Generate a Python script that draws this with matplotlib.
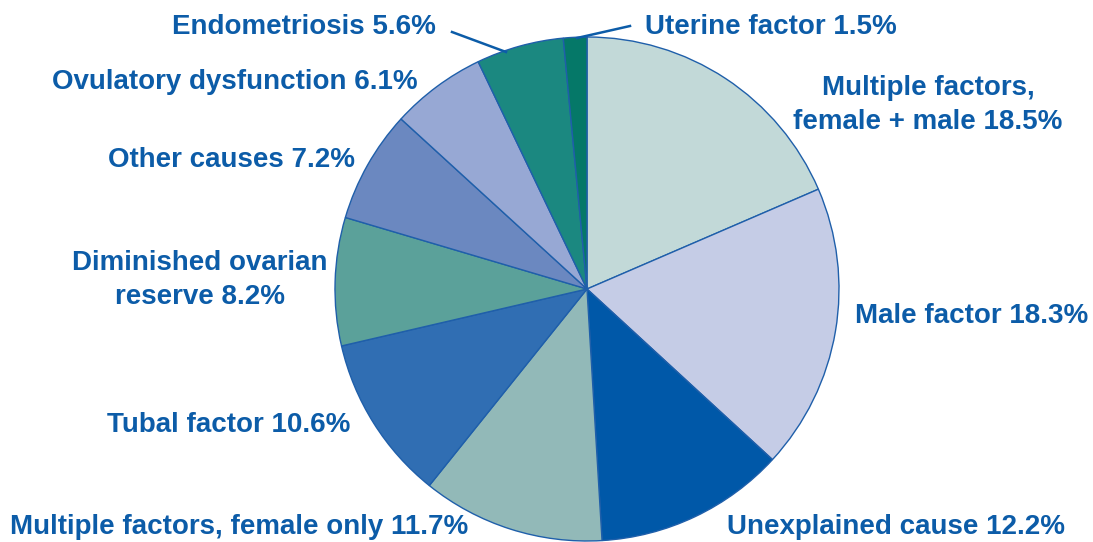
import matplotlib
matplotlib.use("Agg")
import matplotlib.pyplot as plt

categories = ["Multiple factors,\nfemale + male", "Male factor", "Unexplained cause",
              "Multiple factors, female only", "Tubal factor", "Diminished ovarian\nreserve",
              "Other causes", "Ovulatory dysfunction", "Endometriosis", "Uterine factor"]
values = [18.5, 18.3, 12.2, 11.7, 10.6, 8.2, 7.2, 6.1, 5.6, 1.5]
colors = ["#C2D9D8", "#C5CCE6", "#0058A8", "#92B9B8", "#306EB3", "#5BA19A",
          "#6B88C0", "#97A8D4", "#1B8880", "#057868"]

# label layout: (x, y, ha) in pixel coords (y from top)
label_pos = [(928, 105, "center"), (855, 316, "left"), (727, 527, "left"),
             (10, 527, "left"), (350, 425, "right"), (200, 280, "center"),
             (355, 160, "right"), (418, 82, "right"), (436, 27, "right"), (645, 27, "left")]

W, H = 1093, 542
fig = plt.figure(figsize=(W / 100, H / 100), dpi=100)
ax = fig.add_axes([0, 0, 1, 1])

ax.pie(values, colors=colors, startangle=90, counterclock=False,
       center=(587, H - 289), radius=252, frame=True,
       wedgeprops=dict(edgecolor="#1F5FAA", linewidth=1.0))
ax.set_xlim(0, W)
ax.set_ylim(0, H)
ax.set_aspect("equal")
ax.axis("off")

txt_color = "#0C5CA8"
for cat, v, (x, y, ha) in zip(categories, values, label_pos):
    ax.text(x, H - y, f"{cat} {v}%", ha=ha, va="center", color=txt_color,
            fontsize=20, fontweight="bold", family="Liberation Sans",
            linespacing=1.4, multialignment="center")

# leader lines
ax.plot([452, 506], [H - 32, H - 52], color=txt_color, lw=1.8)
ax.plot([630, 577], [H - 26, H - 38], color=txt_color, lw=1.8)

fig.savefig("out.png", dpi=100)
